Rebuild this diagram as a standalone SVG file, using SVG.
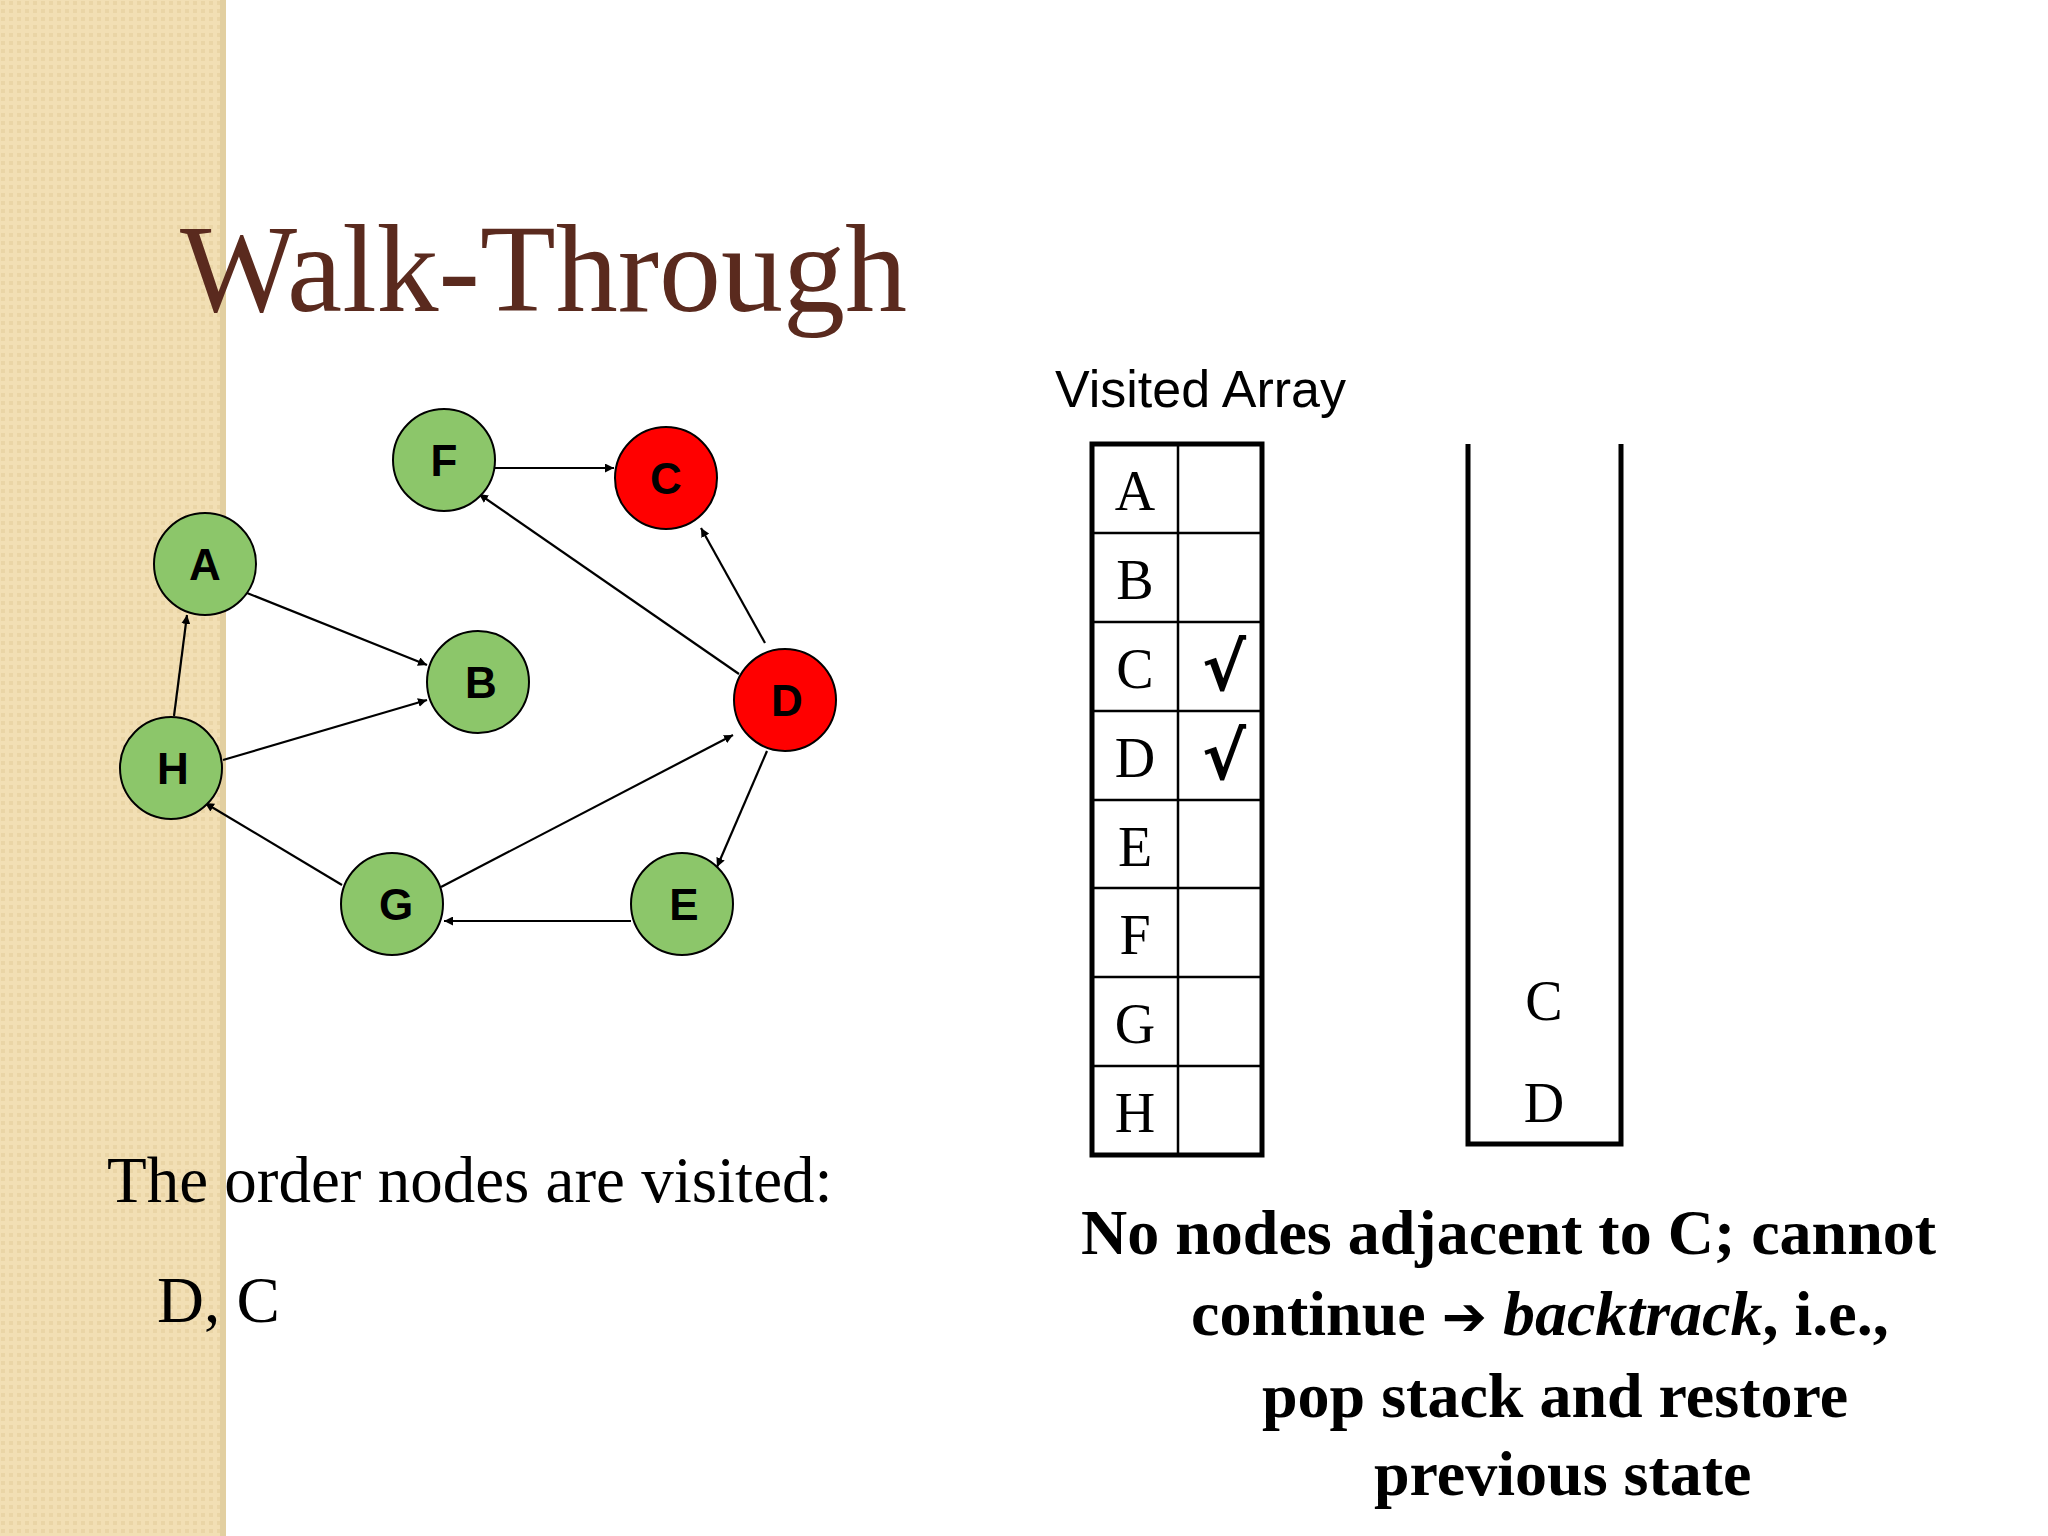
<svg xmlns="http://www.w3.org/2000/svg" width="2048" height="1536" viewBox="0 0 2048 1536">
<defs>
<marker id="ah" viewBox="0 0 10 10" refX="10" refY="5" markerWidth="9" markerHeight="9" markerUnits="userSpaceOnUse" orient="auto"><path d="M0,0 L10,5 L0,10 z" fill="#000"/></marker>
<pattern id="pt" width="8" height="8" patternUnits="userSpaceOnUse"><rect width="8" height="8" fill="#f2dfb4"/><rect x="1" y="1" width="4" height="4" fill="#ead5a6"/></pattern>
</defs>
<style>
.g{fill:#8cc66a;stroke:#000;stroke-width:2}
.r{fill:#ff0000;stroke:#000;stroke-width:2}
.nl{font-family:"Liberation Sans",Arial,sans-serif;font-weight:bold;font-size:44px;text-anchor:middle;fill:#000}
.e{stroke:#000;stroke-width:2.2;fill:none;marker-end:url(#ah)}
.t{font-family:"Liberation Serif","Times New Roman",serif;fill:#000}
.b{font-family:"Liberation Serif","Times New Roman",serif;font-weight:bold;font-size:64px;fill:#000}
</style>
<rect width="2048" height="1536" fill="#fff"/>
<rect x="0" y="0" width="226" height="1536" fill="url(#pt)"/>
<rect x="220" y="0" width="6" height="1536" fill="#e2cfa0"/>
<text x="180" y="311" class="t" font-size="124" style="fill:#5a2a1e">Walk-Through</text>
<g id="connectors">
<line class="e" x1="495" y1="468" x2="614" y2="468"/>
<line class="e" x1="739" y1="674" x2="479" y2="494"/>
<line class="e" x1="765" y1="643" x2="701" y2="528"/>
<line class="e" x1="247" y1="593" x2="427" y2="665"/>
<line class="e" x1="223" y1="760" x2="427" y2="700"/>
<line class="e" x1="174" y1="716" x2="187" y2="615"/>
<line class="e" x1="342" y1="885" x2="205" y2="803"/>
<line class="e" x1="441" y1="887" x2="733" y2="735"/>
<line class="e" x1="767" y1="751" x2="717" y2="867"/>
<line class="e" x1="631" y1="921" x2="444" y2="921"/>
</g>
<g id="F"><circle class="g" cx="444" cy="460" r="51"/><text class="nl" x="444" y="476">F</text></g>
<g id="C"><circle class="r" cx="666" cy="478" r="51"/><text class="nl" x="666" y="494">C</text></g>
<g id="A"><circle class="g" cx="205" cy="564" r="51"/><text class="nl" x="205" y="580">A</text></g>
<g id="B"><circle class="g" cx="478" cy="682" r="51"/><text class="nl" x="481" y="698">B</text></g>
<g id="H"><circle class="g" cx="171" cy="768" r="51"/><text class="nl" x="173" y="784">H</text></g>
<g id="D"><circle class="r" cx="785" cy="700" r="51"/><text class="nl" x="787" y="716">D</text></g>
<g id="G"><circle class="g" cx="392" cy="904" r="51"/><text class="nl" x="396" y="920">G</text></g>
<g id="E"><circle class="g" cx="682" cy="904" r="51"/><text class="nl" x="684" y="920">E</text></g>
<text x="1055" y="407" font-family="Liberation Sans,Arial,sans-serif" font-size="52" fill="#000">Visited Array</text>
<g id="visited" fill="none" stroke="#000">
<rect x="1092" y="444" width="170" height="711" stroke-width="5"/>
<line x1="1178" y1="444" x2="1178" y2="1155" stroke-width="2.5"/>
<line x1="1092" y1="533" x2="1262" y2="533" stroke-width="2.5"/>
<line x1="1092" y1="622" x2="1262" y2="622" stroke-width="2.5"/>
<line x1="1092" y1="711" x2="1262" y2="711" stroke-width="2.5"/>
<line x1="1092" y1="800" x2="1262" y2="800" stroke-width="2.5"/>
<line x1="1092" y1="888" x2="1262" y2="888" stroke-width="2.5"/>
<line x1="1092" y1="977" x2="1262" y2="977" stroke-width="2.5"/>
<line x1="1092" y1="1066" x2="1262" y2="1066" stroke-width="2.5"/>
</g>
<g class="t" font-size="56" text-anchor="middle">
<text x="1135" y="510">A</text><text x="1135" y="599">B</text><text x="1135" y="688">C</text><text x="1135" y="777">D</text>
<text x="1135" y="866">E</text><text x="1135" y="954">F</text><text x="1135" y="1043">G</text><text x="1135" y="1132">H</text>
<text x="1224" y="690" font-family="DejaVu Sans,sans-serif" font-weight="bold" font-size="66">√</text>
<text x="1224" y="779" font-family="DejaVu Sans,sans-serif" font-weight="bold" font-size="66">√</text>
</g>
<g id="stack">
<path d="M1468,444 V1144 H1621 V444" fill="none" stroke="#000" stroke-width="5"/>
<text class="t" x="1544" y="1020" font-size="56" text-anchor="middle">C</text>
<text class="t" x="1544" y="1122" font-size="56" text-anchor="middle">D</text>
</g>
<text class="t" x="107" y="1202" font-size="65">The order nodes are visited:</text>
<text class="t" x="157" y="1322" font-size="65">D, C</text>
<text class="b" x="1081" y="1254">No nodes adjacent to C; cannot</text>
<text class="b" x="1191" y="1335">continue <tspan font-family="DejaVu Sans,sans-serif" font-size="54">➔</tspan> <tspan font-style="italic">backtrack</tspan>, i.e.,</text>
<text class="b" x="1262" y="1417">pop stack and restore</text>
<text class="b" x="1374" y="1495">previous state</text>
</svg>
